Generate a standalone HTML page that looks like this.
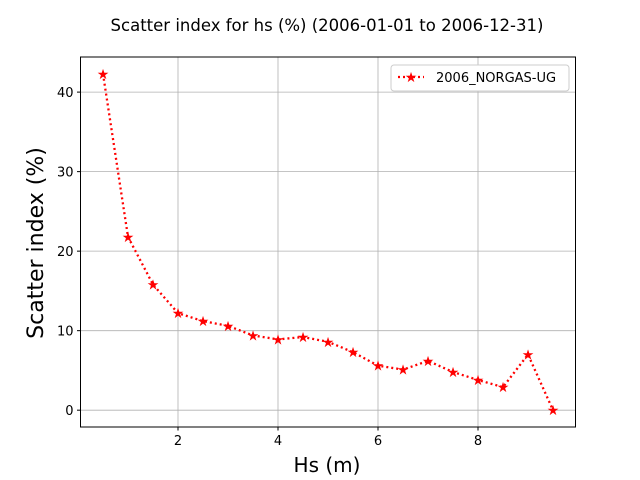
<!DOCTYPE html>
<html><head><meta charset="utf-8"><style>
body{margin:0;background:#fff;}
svg{display:block;font-family:"DejaVu Sans","Liberation Sans",sans-serif;}
</style></head><body>
<svg id="c" width="640" height="480">
<text x="327" y="31" font-size="16.5" text-anchor="middle">Scatter index for hs (%) (2006-01-01 to 2006-12-31)</text>
<g id="grid"></g>
<g id="ticks"></g>
<rect x="80.5" y="57" width="495" height="370" fill="none" stroke="#000" stroke-width="1"/>
<g id="series"></g>
<text x="327" y="472" font-size="20" text-anchor="middle">Hs (m)</text>
<text transform="translate(43,243) rotate(-90)" font-size="22" text-anchor="middle">Scatter index (%)</text>
<g>
<rect x="391" y="65" width="178" height="26" rx="3" fill="#fff" stroke="#ccc"/>
<line x1="398" y1="77" x2="424" y2="77" stroke="red" stroke-width="2.2" stroke-dasharray="2,3"/>
<text x="411" y="82" font-size="14" fill="red" text-anchor="middle">★</text>
<text x="436" y="82" font-size="13">2006_NORGAS-UG</text>
</g>
</svg>
<script>
const xValues=[0.5,1,1.5,2,2.5,3,3.5,4,4.5,5,5.5,6,6.5,7,7.5,8,8.5,9,9.5];
const siValues=[42.3,21.8,15.8,12.2,11.2,10.6,9.4,8.9,9.2,8.6,7.3,5.6,5.1,6.2,4.8,3.8,2.9,7.0,0.0];
const xTicks=[2,4,6,8];
const yTicks=[0,10,20,30,40];
const NS="http://www.w3.org/2000/svg";
const xmin=0.05,xmax=9.95,ymin=-2.115,ymax=44.415;
const L=80.5,R=575.5,T=57,B=427;
function sx(v){return L+(v-xmin)/(xmax-xmin)*(R-L);}
function sy(v){return B-(v-ymin)/(ymax-ymin)*(B-T);}
function mk(tag,attrs,parent){const e=document.createElementNS(NS,tag);for(const k in attrs)e.setAttribute(k,attrs[k]);document.getElementById(parent).appendChild(e);return e;}
xTicks.forEach(t=>{
 const g=mk('line',{x1:sx(t),x2:sx(t),y1:T,y2:B,stroke:'#b0b0b0','stroke-width':0.8},'grid');
 
 
 const tk=mk('line',{x1:sx(t),x2:sx(t),y1:B,y2:B+3.5,stroke:'#000'},'ticks');
 
 
 const tx=mk('text',{x:sx(t),y:B+18,'font-size':13,'text-anchor':'middle'},'ticks');
 tx.textContent=t;
 
 
});
yTicks.forEach(t=>{
 const g=mk('line',{x1:L,x2:R,y1:sy(t),y2:sy(t),stroke:'#b0b0b0','stroke-width':0.8},'grid');
 
 
 const tk=mk('line',{x1:L-3.5,x2:L,y1:sy(t),y2:sy(t),stroke:'#000'},'ticks');
 
 
 const tx=mk('text',{x:L-7,y:sy(t)+5,'font-size':13,'text-anchor':'end'},'ticks');
 tx.textContent=t;
 
 
});
const pts=xValues.map((x,i)=>sx(x)+','+sy(siValues[i])).join(' ');
const pl=mk('polyline',{points:pts,fill:'none',stroke:'red','stroke-width':2.3,'stroke-dasharray':'2,3'},'series');


xValues.forEach((x,i)=>{
 const m=mk('text',{x:sx(x),y:sy(siValues[i])+5,'font-size':14,fill:'red','text-anchor':'middle'},'series');
 m.textContent='★';
 
 
});
</script>
</body></html>
